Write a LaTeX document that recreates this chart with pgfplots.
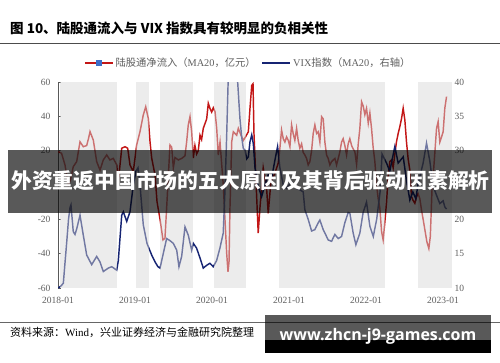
\documentclass[border=0pt]{standalone}
\usepackage{fontspec}
\setmainfont{Liberation Serif}
\newfontfamily\cjk{Noto Sans CJK SC}
\newfontfamily\wmfont{Open Sans}
\usepackage{pgfplots}
\pgfplotsset{compat=1.18}
\definecolor{redl}{RGB}{195,22,22}
\definecolor{bluel}{RGB}{22,36,115}
\definecolor{bandc}{RGB}{216,216,216}
\definecolor{tickc}{RGB}{95,95,95}
\definecolor{legsq}{RGB}{60,110,200}
\begin{document}
\begin{tikzpicture}
\fill[white] (0pt,0pt) rectangle (500pt,362pt);
\path[use as bounding box] (0pt,0pt) rectangle (500pt,362pt);
\node[anchor=west,inner sep=0pt,font=\cjk\bfseries\fontsize{13.5}{15}\selectfont] at (10pt,334pt) {图 10、陆股通流入与 VIX 指数具有较明显的负相关性};
\draw[black!70, line width=0.8pt] (0pt,318.5pt) -- (500pt,318.5pt);

\begin{axis}[
  at={(58pt,74pt)}, anchor=south west, scale only axis,
  width=394pt, height=206pt,
  xmin=0, xmax=61.4, ymin=-60, ymax=60,
  axis x line*=bottom, axis y line*=left,
  x axis line style={draw=none},
  y axis line style={black!65, line width=0.8pt},
  xtick={0,12,24,36,48,60},
  xticklabels={2018-01,2019-01,2020-01,2021-01,2022-01,2023-01},
  xtick style={draw=none},
  ytick={-60,-40,-20,0,20,40,60},
  yticklabels={-60,-40,-20,0,20,40,60},
  ytick align=inside, ytick style={black!65, line width=0.6pt}, major tick length=3pt,
  tick label style={font=\fontsize{9.5}{10}\selectfont, text=tickc},
  xticklabel style={yshift=-6pt},
  yticklabel style={xshift=-4pt},
  legend style={at={(0.483,1.092)}, anchor=center, draw=none, fill=none,
    legend columns=2, font=\fontsize{10.3}{11}\selectfont, text=tickc,
    /tikz/every even column/.append style={column sep=4pt}},
  legend image code/.code={\draw[mark repeat=2,mark phase=2,#1] plot coordinates {(0pt,0pt) (14pt,0pt) (28pt,0pt)};},
]
\addlegendimage{redl, line width=1.4pt, mark=square*, mark size=2.4pt, mark options={fill=legsq, draw=legsq}}
\addlegendentry{{\cjk 陆股通净流入（}MA20{\cjk ，亿元）}}
\addlegendimage{bluel, line width=1.4pt}
\addlegendentry{VIX{\cjk 指数（}MA20{\cjk ，右轴）}}
\addplot[redl, line width=1.45pt, forget plot] coordinates {
(0.05,19.4)(0.55,18.5)(1.09,11.7)(1.6,0)(1.95,3)(2.38,10.7)(2.91,13.6)(3.43,25.2)(3.94,22.3)(4.47,23)(4.75,27)(4.99,31.1)(5.5,26.2)(6.03,13.6)(6.55,8.7)(7.06,14.6)(7.59,17.5)(8.1,14.6)(8.62,15.5)(9.15,11.7)(9.4,2)(9.93,21.4)(10.44,22.3)(10.86,21.4)(11.22,11.7)(11.73,7.8)(12.26,23.3)(12.78,31.1)(13.29,40.8)(13.67,45.6)(14.07,38.8)(14.34,25.2)(14.6,15.7)(15.12,5.8)(15.43,-9.7)(15.9,-20)(16.36,-32)(16.67,-31)(16.98,-10)(17.45,23.3)(17.72,22)(17.97,10)(18.23,16)(18.75,14.6)(19.28,15.5)(19.79,17)(20.05,25.2)(20.3,35)(20.57,39.8)(20.83,31)(21.09,15.7)(21.34,23)(21.6,18)(21.86,20)(22.13,29)(22.38,26.5)(22.64,33)(23.17,38.5)(23.42,47.6)(23.69,44.5)(23.95,42.5)(24.2,45)(24.47,42.7)(24.73,33)(24.98,17.5)(25.25,25)(25.51,12)(25.76,0)(26.02,-20)(26.29,-40)(26.49,-50.5)(26.65,-45)(26.8,-13.4)(27.07,25.2)(27.32,31)(27.85,29)(28.1,33)(28.52,29)(28.88,26)(29.14,27.5)(29.66,31)(29.92,44.8)(30.19,58)(30.39,59)(30.54,30)(30.78,8.7)(31.2,-28)(31.47,-13.4)(31.98,10)(32.51,-2)(32.76,-16.5)(33.18,2)(33.8,6.8)(34.32,12.8)(34.58,21.5)(34.84,32)(35.1,27)(35.36,25)(35.62,28)(35.88,26)(36.14,22.3)(36.4,35)(36.65,30)(36.91,26)(37.18,33)(37.43,26)(37.69,21.4)(37.96,24)(38.21,19)(38.47,17.5)(38.74,15.5)(38.99,11.7)(39.25,13.6)(39.52,20)(39.77,30)(40.03,35)(40.3,30)(40.55,31)(40.81,25)(41.08,39.8)(41.33,38.5)(41.59,25)(41.85,17.5)(42.1,15.5)(42.37,11.7)(42.63,13.6)(43.15,15.5)(43.41,11.7)(43.67,15.5)(43.93,19.4)(44.19,25)(44.44,27)(44.7,23)(44.97,17.5)(45.22,24)(45.48,27)(45.75,23)(46.0,21)(46.26,19.4)(46.53,12)(46.79,24)(47.04,33)(47.31,48.5)(47.56,46)(47.82,41)(48.08,44.7)(48.35,36)(48.6,42)(48.86,33)(49.11,22)(49.38,13.6)(49.64,0)(49.9,-8)(50.16,-13.6)(50.42,-27)(50.67,-32)(50.94,-21.4)(51.2,-10)(51.45,5)(51.71,13.6)(51.98,14.6)(52.23,10)(52.49,18)(52.75,25.2)(53.01,30)(53.27,34)(53.54,38.8)(53.79,44.7)(54.05,38)(54.31,25)(54.57,15)(54.83,8.7)(55.09,-6.8)(55.34,-9)(55.61,-10.6)(55.87,-7)(56.12,-5)(56.39,-8)(56.65,-14.6)(56.9,-20)(57.17,-26)(57.48,-33)(57.79,-37)(58.02,-30)(58.3,-1)(58.52,8)(58.72,18.5)(58.99,33)(59.24,36.9)(59.5,25)(59.77,28)(60.02,31)(60.28,44.7)(60.55,51.5)
};
\end{axis}

\begin{axis}[
  at={(58pt,74pt)}, anchor=south west, scale only axis,
  width=394pt, height=206pt,
  xmin=0, xmax=61.4, ymin=10, ymax=40,
  axis x line=none, axis y line*=right,
  y axis line style={draw=none},
  ytick={10,15,20,25,30,35,40},
  yticklabels={10,15,20,25,30,35,40},
  ytick style={draw=none},
  tick label style={font=\fontsize{9.5}{10}\selectfont, text=tickc},
  yticklabel style={xshift=-1pt},
]
\addplot[bluel, line width=1.45pt] coordinates {
(0.05,10)(0.47,10.3)(0.83,10.7)(1.36,16.7)(1.64,20)(1.87,21.7)(2.02,22.1)(2.38,18.2)(2.65,17.8)(2.91,18.6)(3.43,20.6)(3.94,17.7)(4.47,14.8)(5.25,13.4)(6.03,14.6)(6.54,13.8)(7.06,12.4)(7.84,12.9)(8.37,13.1)(9.15,12.6)(9.4,14)(9.93,20.6)(10.18,21.1)(10.71,19.7)(11.22,21.1)(11.73,25)(12.15,27)(12.47,27.5)(12.78,25)(13.29,19.2)(13.87,16.5)(14.6,14.8)(15.12,13.8)(15.58,13.1)(15.9,12.9)(16.4,15)(16.93,17.2)(17.45,16.9)(17.97,16.5)(18.5,15.5)(18.85,13.1)(19.27,14.6)(19.79,18.9)(20.3,17.7)(20.83,15.5)(21.09,16.5)(21.6,15.8)(22.12,14.4)(22.64,12.9)(23.16,13.3)(23.68,13.6)(24.19,13.1)(24.72,14)(25.23,15.8)(25.75,18)(26.01,24)(26.28,32)(26.54,41)(26.8,55)(27.27,60)(27.73,48)(28.0,40)(28.35,34.7)(28.62,32)(28.88,30.3)(29.14,30.1)(29.41,28.8)(29.66,29.1)(29.92,31.3)(30.19,32.3)(30.44,31)(30.7,27.5)(31.2,24.8)(31.73,23.3)(32.24,25)(32.76,26.5)(33.29,26)(33.8,28.6)(34.22,30.6)(34.58,27.5)(35.1,25)(35.62,24.5)(36.4,25.5)(37.18,24.5)(37.69,24.3)(38.21,24)(38.47,21.4)(38.99,20)(39.52,18.3)(40.03,18.5)(40.55,19.5)(40.81,19.9)(41.33,18.5)(41.85,17.5)(42.1,17)(42.63,16.8)(43.15,17.8)(43.67,17.2)(44.19,17.5)(44.7,19.5)(45.22,21)(45.48,20.9)(46.0,18)(46.42,16.3)(47.04,18)(47.55,21)(48.08,22.5)(48.6,19)(49.13,17.5)(49.66,20)(50.19,24)(50.5,29.5)(51.2,28.2)(51.7,27)(52.49,30.6)(53.01,28.2)(53.8,29.1)(54.3,25.7)(54.83,22.8)(55.3,24)(55.76,23)(56.12,25.2)(56.9,28.2)(57.43,31.1)(57.94,28.5)(58.46,24.8)(58.99,23.5)(59.5,22.3)(60.02,22.7)(60.28,21.8)(60.55,21.5)
};
\fill[bandc, fill opacity=0.47] (axis cs:0.31,10) rectangle (axis cs:9.19,40);
\fill[bandc, fill opacity=0.47] (axis cs:12.15,10) rectangle (axis cs:14.18,40);
\fill[bandc, fill opacity=0.47] (axis cs:15.89,10) rectangle (axis cs:21.04,40);
\fill[bandc, fill opacity=0.47] (axis cs:24.31,10) rectangle (axis cs:29.35,40);
\fill[bandc, fill opacity=0.47] (axis cs:34.44,10) rectangle (axis cs:50.96,40);
\fill[bandc, fill opacity=0.47] (axis cs:56.1,10) rectangle (axis cs:61.4,40);
\end{axis}

\draw[black!60, line width=0.8pt] (0pt,40pt) -- (500pt,40pt);
\node[anchor=west,inner sep=0pt,font=\fontsize{11}{12}\selectfont] at (10pt,30pt) {{\cjk 资料来源：}Wind{\cjk ，兴业证券经济与金融研究院整理}};

\fill[black, fill opacity=0.65] (8pt,149pt) rectangle (492pt,212pt);
\node[text=white, inner sep=0pt, font=\cjk\bfseries\fontsize{20.8}{22}\selectfont] at (250.5pt,181pt) {外资重返中国市场的五大原因及其背后驱动因素解析};

\fill[black, fill opacity=0.65] (265pt,22pt) rectangle (491pt,47pt);
\fill[black] (265pt,9pt) rectangle (491pt,22pt);
\node[text=white, inner sep=0pt, font=\wmfont\bfseries\fontsize{16}{18}\selectfont] at (378pt,26pt) {www.zhcn-j9-games.com};
\end{tikzpicture}
\end{document}
